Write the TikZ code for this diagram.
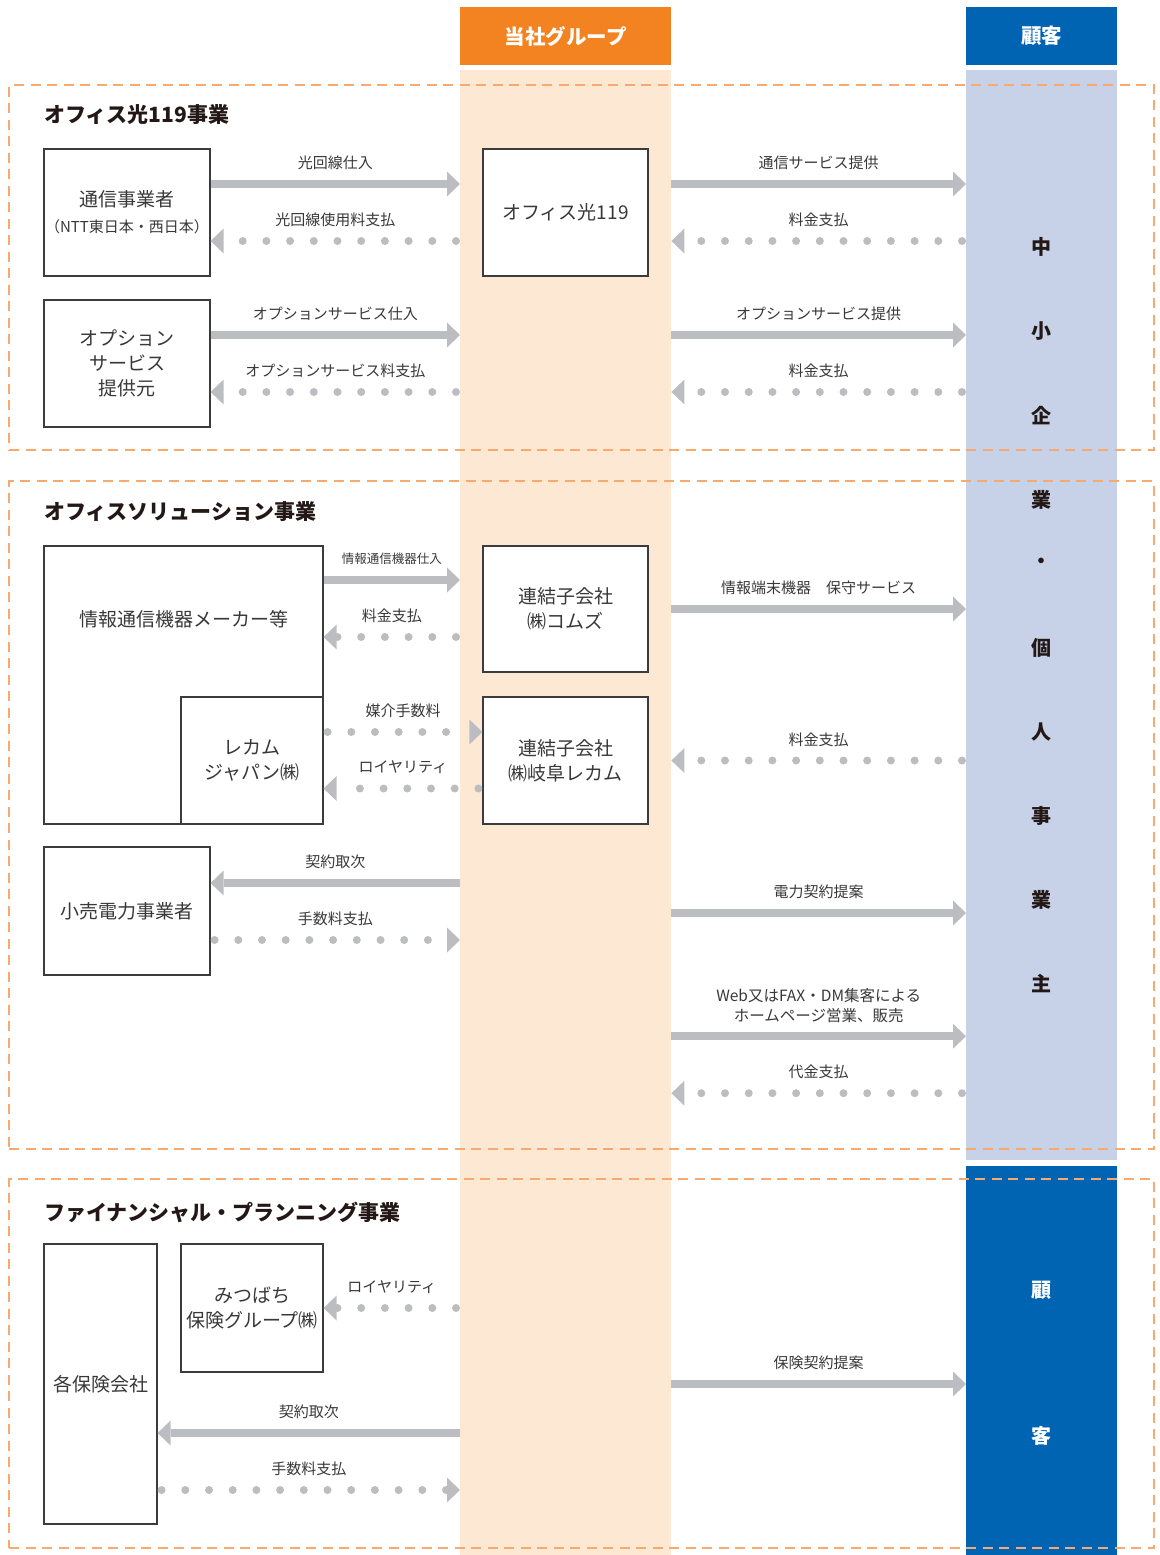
\documentclass[tikz,border=0pt]{standalone}
\usepackage{fontspec}
\setmainfont{Noto Sans CJK JP}
\usepackage{xcolor}
\usetikzlibrary{arrows.meta, positioning}

\definecolor{grporange}{HTML}{F38321}
\definecolor{grplight}{HTML}{FDE8D4}
\definecolor{custblue}{HTML}{0064B3}
\definecolor{custlight}{HTML}{C7D2E9}
\definecolor{frameorange}{HTML}{F8AA6E}
\definecolor{flowgray}{HTML}{BCBDC0}
\definecolor{boxline}{HTML}{3C3C3C}
\definecolor{inkgray}{HTML}{383838}
\definecolor{titleblack}{HTML}{231815}

\begin{document}
\begin{tikzpicture}[x=1pt, y=-1pt,
    col/.style = {inner sep=0pt, anchor=north west},
    head/.style = {col, text=white, font=\fontsize{20.5}{24}\selectfont\bfseries},
    frame/.style = {col, draw=frameorange, line width=2.2pt, dash pattern=on 10pt off 6.5pt},
    sect/.style = {anchor=west, inner sep=0pt, text=titleblack, font=\fontsize{21}{24}\selectfont\bfseries},
    box/.style = {draw=boxline, line width=1.2pt, fill=white, inner sep=0pt, align=center,
                  text=inkgray, font=\fontsize{19}{25}\selectfont},
    flow/.style = {draw=flowgray, line width=8pt, -{Triangle[length=13pt, width=25pt, line width=0pt]}},
    pay/.style = {flow, line cap=round, dash pattern=on 0pt off 23.7pt, dash phase=19.7pt},
    lbl/.style = {midway, yshift=21pt, align=center, text=inkgray, font=\fontsize{15}{20}\selectfont},
    vchar/.style = {text=titleblack, font=\fontsize{20}{24}\selectfont\bfseries}
  ]
\useasboundingbox (0,0) rectangle (1159,1555);

% columns and headers
\node[col, fill=grplight, minimum width=211pt, minimum height=1485pt] (grp) at (460,70) {};
\node[col, fill=custlight, minimum width=151pt, minimum height=1090pt] (cust) at (966,70) {};
\node[col, fill=custblue, minimum width=151pt, minimum height=389pt] (cust2) at (966,1166) {};
\node[head, fill=grporange, minimum width=211pt, minimum height=58pt] (grphead) at (460,7) {当社グループ};
\node[head, fill=custblue, minimum width=151pt, minimum height=58pt] (custhead) at (966,7) {顧客};

\foreach \ch/\yy [count=\k] in {中/247,小/331,企/416,業/500,・/563,個/648,人/732,事/816,業/900,主/984}
  \node[vchar] (sme\k) at (1041.5,\yy) {\ch};
\node[vchar, text=white] (kokyaku1) at (1041.5,1290) {顧};
\node[vchar, text=white] (kokyaku2) at (1041.5,1436) {客};

% section frames
\node[frame, minimum width=1145pt, minimum height=365pt] (sec1) at (8,84) {};
\node[frame, minimum width=1145pt, minimum height=668pt] (sec2) at (8,480) {};
\node[frame, minimum width=1145pt, minimum height=369pt] (sec3) at (8,1178) {};
\node[sect] (title1) at ([xshift=36pt, yshift=-31pt]sec1.north west) {オフィス光119事業};
\node[sect] (title2) at ([xshift=36pt, yshift=-32pt]sec2.north west) {オフィスソリューション事業};
\node[sect] (title3) at ([xshift=36pt, yshift=-34pt]sec3.north west) {ファイナンシャル・プランニング事業};

% section 1
\node[box, minimum width=166pt, minimum height=127pt] (tsushin) at (127,212.5)
  {通信事業者\\[1pt]{\fontsize{15}{18}\selectfont （NTT東日本・西日本）}};
\node[box, minimum width=165pt, minimum height=127pt] (hikari) at (565.5,212.5) {オフィス光119};
\node[box, minimum width=166pt, minimum height=127pt] (option) at (127,363.5) {オプション\\サービス\\提供元};

\draw[flow] ([yshift=28.5pt]tsushin.east) -- ([yshift=28.5pt]tsushin.east -| grp.west) node[lbl] (l1a) {光回線仕入};
\draw[pay] ([yshift=-28.5pt]tsushin.east -| grp.west) -- ([yshift=-28.5pt]tsushin.east) node[lbl] (l1b) {光回線使用料支払};
\draw[flow] ([yshift=28.5pt]hikari.east -| grp.east) -- ([yshift=28.5pt]hikari.east -| cust.west) node[lbl] (l1c) {通信サービス提供};
\draw[pay] ([yshift=-28.5pt]hikari.east -| cust.west) -- ([yshift=-28.5pt]hikari.east -| grp.east) node[lbl] (l1d) {料金支払};
\draw[flow] ([yshift=28.5pt]option.east) -- ([yshift=28.5pt]option.east -| grp.west) node[lbl] (l1e) {オプションサービス仕入};
\draw[pay] ([yshift=-28.5pt]option.east -| grp.west) -- ([yshift=-28.5pt]option.east) node[lbl] (l1f) {オプションサービス料支払};
\draw[flow] ([yshift=28.5pt]option.east -| grp.east) -- ([yshift=28.5pt]option.east -| cust.west) node[lbl] (l1g) {オプションサービス提供};
\draw[pay] ([yshift=-28.5pt]option.east -| cust.west) -- ([yshift=-28.5pt]option.east -| grp.east) node[lbl] (l1h) {料金支払};

% section 2
\node[box, minimum width=279pt, minimum height=278pt] (maker) at (183.5,685) {};
\node[text=inkgray, font=\fontsize{19}{25}\selectfont] (makername) at ([yshift=-74pt]maker.north) {情報通信機器メーカー等};
\node[box, anchor=south east, minimum width=142pt, minimum height=127pt] (recamjp) at (maker.south east) {レカム\\ジャパン㈱};
\node[box, minimum width=165pt, minimum height=126pt] (comz) at (565.5,609) {連結子会社\\㈱コムズ};
\node[box, minimum width=165pt, minimum height=127pt] (gifu) at (565.5,760.5) {連結子会社\\㈱岐阜レカム};
\node[box, minimum width=166pt, minimum height=128pt] (kouri) at (127,911) {小売電力事業者};

\draw[flow] ([yshift=29pt]comz.west -| maker.east) -- ([yshift=29pt]comz.west -| grp.west)
  node[lbl, font=\fontsize{12.5}{15}\selectfont] (l2a) {情報通信機器仕入};
\draw[pay] ([yshift=-28pt]comz.west -| grp.west) -- ([yshift=-28pt]comz.west -| maker.east) node[lbl] (l2b) {料金支払};
\draw[pay] ([yshift=28.5pt]recamjp.east) -- ([yshift=28.5pt]gifu.west) node[lbl] (l2c) {媒介手数料};
\draw[pay] ([yshift=-28pt]gifu.west) -- ([yshift=-28pt]recamjp.east) node[lbl] (l2d) {ロイヤリティ};
\draw[flow] (comz.east -| grp.east) -- (comz.east -| cust.west) node[lbl] (l2e) {情報端末機器　保守サービス};
\draw[pay] (gifu.east -| cust.west) -- (gifu.east -| grp.east) node[lbl] (l2f) {料金支払};
\draw[flow] ([yshift=28pt]kouri.east -| grp.west) -- ([yshift=28pt]kouri.east) node[lbl] (l2g) {契約取次};
\draw[pay] ([yshift=-29pt]kouri.east) -- ([yshift=-29pt]kouri.east -| grp.west) node[lbl] (l2h) {手数料支払};
\draw[flow] ([yshift=-2pt]kouri.east -| grp.east) -- ([yshift=-2pt]kouri.east -| cust.west) node[lbl] (l2i) {電力契約提案};
\draw[flow] ([yshift=114pt]sec2.south -| grp.east) -- ([yshift=114pt]sec2.south -| cust.west)
  node[lbl, yshift=10pt, font=\fontsize{15.5}{20}\selectfont] (l2j) {Web又はFAX・DM集客による\\ホームページ営業、販売};
\draw[pay] ([yshift=57pt]sec2.south -| cust.west) -- ([yshift=57pt]sec2.south -| grp.east) node[lbl] (l2k) {代金支払};

% section 3
\node[box, minimum width=113pt, minimum height=280pt] (hoken) at (100.5,1384) {各保険会社};
\node[box, minimum width=142pt, minimum height=128pt] (mitsu) at (252,1308) {みつばち\\保険グループ㈱};

\draw[pay] (mitsu.east -| grp.west) -- (mitsu.east) node[lbl] (l3a) {ロイヤリティ};
\draw[flow] ([yshift=-49pt]hoken.east -| grp.west) -- ([yshift=-49pt]hoken.east) node[lbl] (l3b) {契約取次};
\draw[pay] ([yshift=-106pt]hoken.east) -- ([yshift=-106pt]hoken.east -| grp.west) node[lbl] (l3c) {手数料支払};
\draw[flow] (hoken.east -| grp.east) -- (hoken.east -| cust2.west) node[lbl] (l3d) {保険契約提案};
\end{tikzpicture}
\end{document}
